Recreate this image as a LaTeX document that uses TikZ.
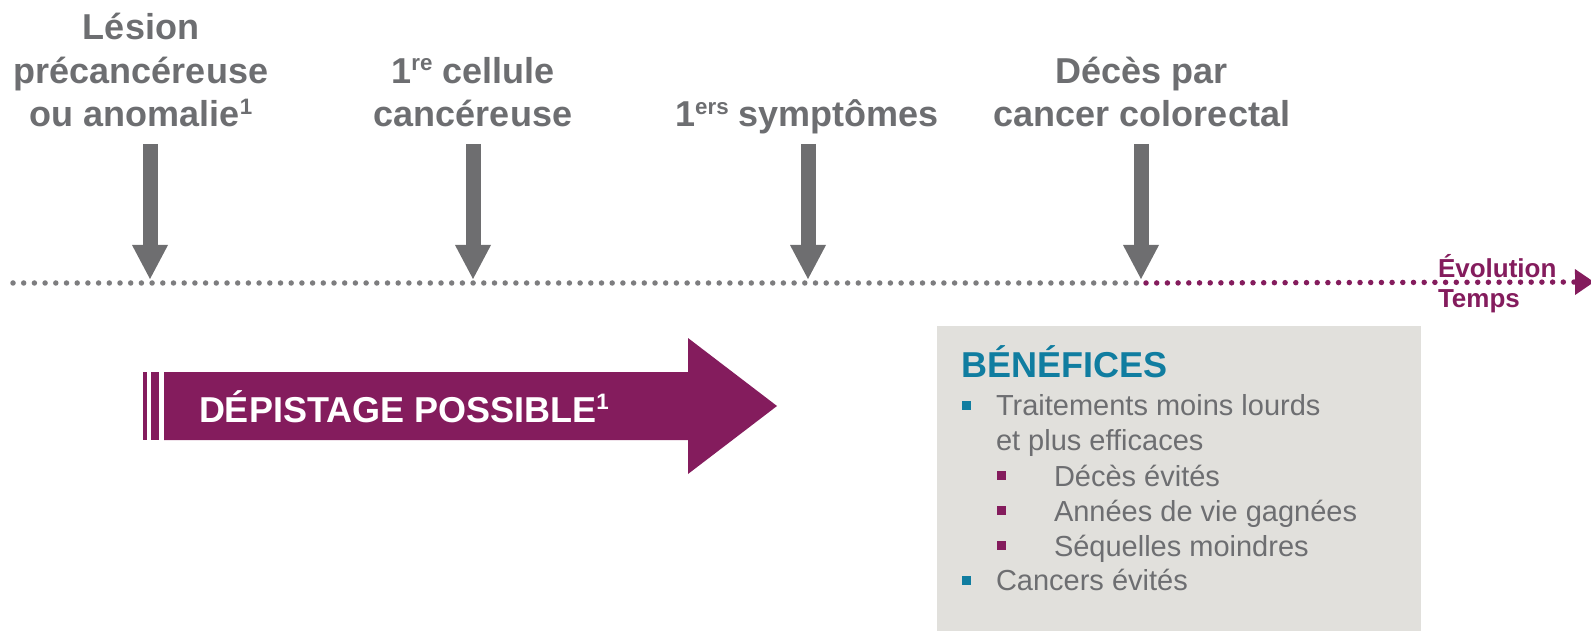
\documentclass[tikz,border=0pt]{standalone}
\usepackage{fontspec}
\setmainfont{Liberation Sans}
\usepackage{graphicx}
\usetikzlibrary{arrows.meta}
\definecolor{txtgray}{RGB}{109,110,113}
\definecolor{arrgray}{RGB}{110,110,112}
\definecolor{dotgray}{RGB}{125,125,127}
\definecolor{plum}{RGB}{132,28,93}
\definecolor{tealc}{RGB}{16,125,160}
\definecolor{boxbg}{RGB}{225,224,220}
\newcommand\upx[1]{\raisebox{0.36em}{\scalebox{0.62}{#1}}}
\begin{document}
\begin{tikzpicture}[x=1pt,y=-1pt,
  every node/.style={inner sep=0pt,outer sep=0pt},
  toplabel/.style={font=\fontsize{36}{43.5}\selectfont\bfseries,text=txtgray,align=center,anchor=base},
  downarrow/.style={draw=arrgray,line width=15pt,-{Triangle[length=34pt,width=36pt,line width=0pt]}},
  dotline/.style={line width=5.5pt,line cap=round,dash pattern=on 0pt off 10.7pt},
  bodytext/.style={font=\fontsize{29}{35}\selectfont,text=txtgray,anchor=base west},
  tealbullet/.style={fill=tealc},
  plumbullet/.style={fill=plum}
]
\useasboundingbox (0,0) rectangle (1591,631);

% top labels
\node[toplabel] (lab1) at (141,127) {Lésion\\précancéreuse\\ou anomalie\upx{1}};
\node[toplabel] (lab2) at (473,127) {1\upx{re} cellule\\cancéreuse};
\node[toplabel] (lab3) at (807,127) {1\upx{ers} symptômes};
\node[toplabel] (lab4) at (1142,127) {Décès par\\cancer colorectal};

% timeline
\coordinate (tl0) at (13,283);
\coordinate (t4) at (1141,283);
\coordinate (t4b) at (1146,283);
\coordinate (tend) at (1594,282);
\draw[dotline,draw=dotgray] (tl0) -- (t4);
\draw[dotline,draw=plum,-{Triangle[length=19pt,width=26pt,line width=0pt]}] (t4b) -- (tend);

% down arrows
\coordinate (s1) at (150,144);
\coordinate (s2) at (473,144);
\coordinate (s3) at (808,144);
\coordinate (s4) at (1141,144);
\coordinate (e1) at (150,279);
\coordinate (e2) at (473,279);
\coordinate (e3) at (808,279);
\coordinate (e4) at (1141,279);
\draw[downarrow] (s1) -- (e1);
\draw[downarrow] (s2) -- (e2);
\draw[downarrow] (s3) -- (e3);
\draw[downarrow] (s4) -- (e4);

\node[anchor=base west,align=left,font=\fontsize{26}{30}\selectfont\bfseries,text=plum] (evo) at (1438,307) {Évolution\\Temps};

% depistage arrow
\fill[plum] (143,372) rectangle (147,440);
\fill[plum] (151,372) rectangle (159,440);
\fill[plum] (164,372) -- (688,372) -- (688,338) -- (777,406) -- (688,474) -- (688,440) -- (164,440) -- cycle;
\node[anchor=base west,text=white,font=\fontsize{36}{43}\selectfont\bfseries] (dep) at (199,422) {DÉPISTAGE POSSIBLE\upx{1}};

% benefices box
\fill[boxbg] (937,326) rectangle (1421,631);
\node[anchor=base west,text=tealc,font=\fontsize{36}{43}\selectfont\bfseries] (ben) at (961,377) {BÉNÉFICES};
\fill[tealbullet] (961.5,400.5) rectangle (970.5,409.5);
\node[bodytext] (b1) at (996,415) {Traitements moins lourds};
\node[bodytext] (b1b) at (996,450) {et plus efficaces};
\fill[plumbullet] (996.5,470.5) rectangle (1005.5,479.5);
\node[bodytext] (b2) at (1054,486) {Décès évités};
\fill[plumbullet] (996.5,505.5) rectangle (1005.5,514.5);
\node[bodytext] (b3) at (1054,521) {Années de vie gagnées};
\fill[plumbullet] (996.5,540.5) rectangle (1005.5,549.5);
\node[bodytext] (b4) at (1054,556) {Séquelles moindres};
\fill[tealbullet] (961.5,575.5) rectangle (970.5,584.5);
\node[bodytext] (b5) at (996,590) {Cancers évités};
\end{tikzpicture}
\end{document}
